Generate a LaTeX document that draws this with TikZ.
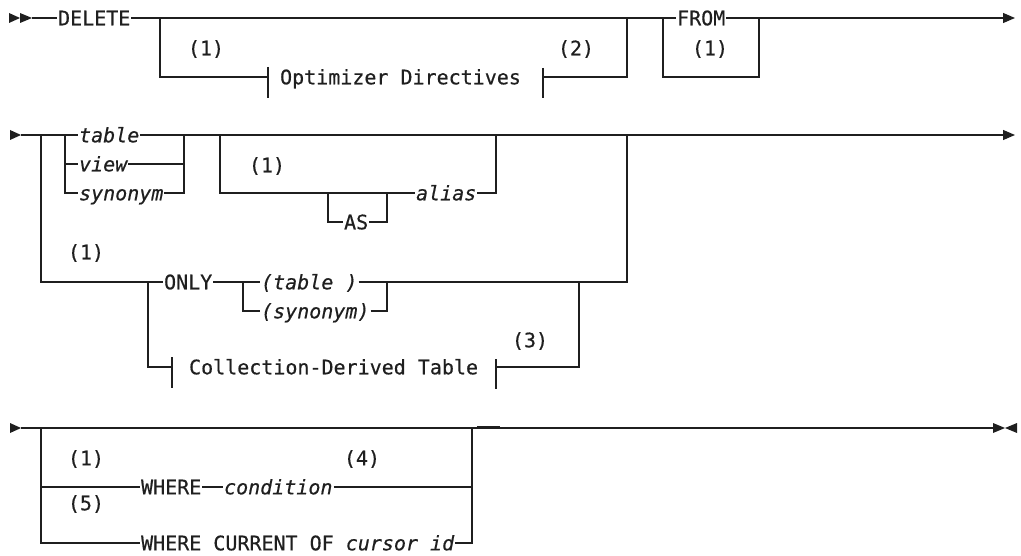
\documentclass[tikz,border=0pt]{standalone}
\usepackage{fontspec}
\setmonofont[FakeBold=0.5]{DejaVu Sans Mono}
\usetikzlibrary{arrows.meta}

\begin{document}
\begin{tikzpicture}[x=1pt,y=-1pt,line width=1.2pt,color=black!88,
    kw/.style={inner xsep=0.5pt,inner ysep=0pt,text height=14.6pt,text depth=0pt,anchor=west,
      font=\ttfamily\fontsize{20}{24}\selectfont},
    var/.style={kw,font=\ttfamily\itshape\fontsize{20}{24}\selectfont},
    fn/.style={kw,anchor=center},
    endtip/.style={-{Triangle[length=12pt,width=10pt]}}]
    \useasboundingbox (0,0) rectangle (1021,556);

    \fill (9,13)--(20,18)--(9,23)--cycle;
    \fill (20,13)--(32,18)--(20,23)--cycle;
    \coordinate (in1) at (32,18);
    \node[kw] (delete) at (57,18) {DELETE};
    \node[kw] (from) at (676,18) {FROM};
    \coordinate (out1) at (1015,18);
    \draw (in1)--(delete.west);
    \draw (delete.east)--(from.west);
    \draw[endtip] (from.east)--(out1);

    \node[kw] (opt) at (279,77) {Optimizer Directives};
    \coordinate (optl) at (268,77);
    \coordinate (optr) at (543,77);
    \draw (160,18) |- (optl);
    \draw (268,67)--(268,98);
    \draw (543,68)--(543,98);
    \draw (optr) -| (627,18);
    \node[fn] (fn1a) at (206,48) {(1)};
    \node[fn] (fn2) at (576,48) {(2)};
    \draw (663,18) |- (759,77)--(759,18);
    \node[fn] (fn1b) at (710,48) {(1)};

    \fill (10,130)--(21,135)--(10,140)--cycle;
    \coordinate (in2) at (21,135);
    \node[var] (tab) at (78,135) {table};
    \node[var] (view) at (78,164) {view};
    \node[var] (syn) at (78,193) {synonym};
    \draw (in2)--(tab.west);
    \draw (65,135) |- (syn.west);
    \draw (65,164)--(view.west);
    \draw (view.east)--(184,164);
    \draw (syn.east) -| (184,135);
    \draw[endtip] (tab.east)--(1015,135);

    \node[fn] (fn1c) at (267,165) {(1)};
    \node[var] (alias) at (415,193) {alias};
    \node[kw] (as) at (343,222) {AS};
    \draw (220,135) |- (alias.west);
    \draw (328,193) |- (as.west);
    \draw (as.east) -| (387,193);
    \draw (alias.east) -| (496,135);

    \node[fn] (fn1d) at (86,252) {(1)};
    \node[kw] (only) at (163,282) {ONLY};
    \node[var] (otab) at (260,282) {(table )};
    \node[var] (osyn) at (260,311) {(synonym)};
    \draw (41,135) |- (only.west);
    \draw (only.east)--(otab.west);
    \draw (243,282) |- (osyn.west);
    \draw (osyn.east) -| (387,282);
    \draw (otab.east) -| (627,135);

    \node[kw] (cdt) at (188,367) {Collection-Derived Table};
    \draw (148,282) |- (172,367);
    \draw (172,357)--(172,388);
    \draw (496,359)--(496,389);
    \draw (496,367) -| (579,282);
    \node[fn] (fn3) at (530,340) {(3)};

    \fill (10,423)--(21,428)--(10,433)--cycle;
    \coordinate (in3) at (21,428);
    \coordinate (out3) at (993,428);
    \draw (in3)--(out3);
    \draw[line width=2pt] (477,427)--(500,427);
    \fill (993,423)--(1005,428)--(993,433)--cycle;
    \fill (1017,423)--(1005,428)--(1017,433)--cycle;
    \node[kw] (where) at (140,487) {WHERE};
    \node[var] (cond) at (223,487) {condition};
    \node[kw] (cur) at (140,543) {WHERE CURRENT OF \textit{cursor id}};
    \draw (41,428) |- (cur.west);
    \draw (41,487)--(where.west);
    \draw (where.east)--(cond.west);
    \draw (cond.east)--(472,487);
    \draw (cur.east) -| (472,428);
    \node[fn] (fn1e) at (86,458) {(1)};
    \node[fn] (fn4) at (362,458) {(4)};
    \node[fn] (fn5) at (86,503) {(5)};
\end{tikzpicture}
\end{document}
